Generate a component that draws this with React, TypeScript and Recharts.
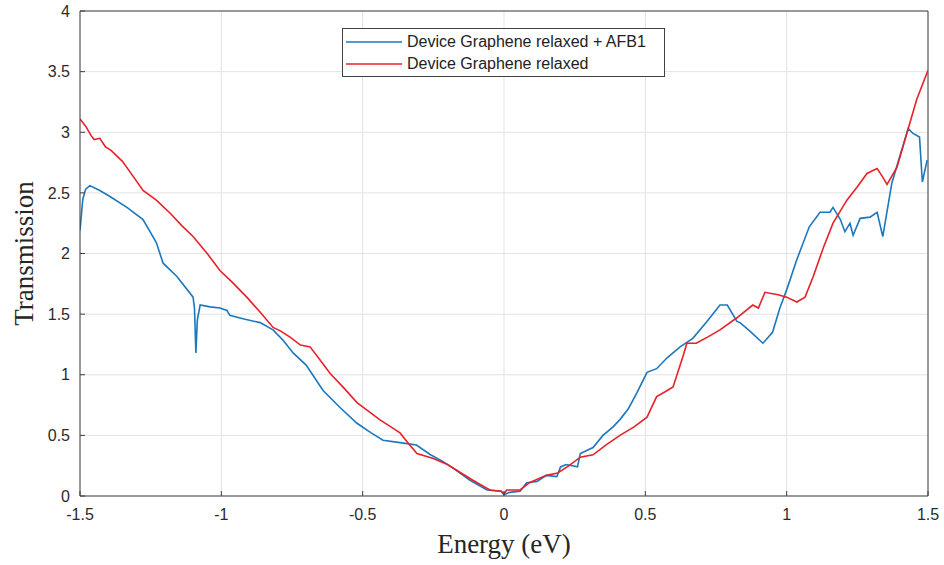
import React from "react";
import { LineChart, Line, XAxis, YAxis, CartesianGrid, Legend, Label, ReferenceLine } from "recharts";

const energyRelaxed = [
  -1.5, -1.48, -1.46, -1.45, -1.43, -1.41, -1.39, -1.35, -1.31, -1.277, -1.23, -1.18, -1.14, -1.1, -1.05,
  -1.005, -0.96, -0.91, -0.86, -0.817, -0.79, -0.757, -0.72, -0.686, -0.65, -0.615, -0.57, -0.52, -0.48,
  -0.44, -0.4, -0.368, -0.34, -0.308, -0.25, -0.2, -0.166, -0.11, -0.05, -0.01, 0.0, 0.01, 0.057, 0.09,
  0.15, 0.19, 0.23, 0.27, 0.315, 0.36, 0.41, 0.46, 0.506, 0.54, 0.57, 0.598, 0.633, 0.647, 0.68, 0.72,
  0.764, 0.824, 0.88, 0.9, 0.923, 0.97, 1.0, 1.036, 1.065, 1.094, 1.13, 1.164, 1.213, 1.25, 1.284, 1.32,
  1.34, 1.355, 1.39, 1.425, 1.46, 1.5,
];
const transRelaxed = [
  3.11, 3.05, 2.97, 2.94, 2.95, 2.88, 2.85, 2.76, 2.63, 2.52, 2.44, 2.33, 2.23, 2.14, 2.0,
  1.86, 1.76, 1.64, 1.51, 1.39, 1.36, 1.31, 1.245, 1.23, 1.12, 1.01, 0.9, 0.77, 0.7,
  0.63, 0.57, 0.52, 0.44, 0.35, 0.31, 0.26, 0.21, 0.13, 0.05, 0.04, 0.02, 0.05, 0.05, 0.11,
  0.17, 0.19, 0.25, 0.32, 0.34, 0.42, 0.5, 0.57, 0.65, 0.82, 0.86, 0.9, 1.15, 1.26, 1.26, 1.31,
  1.37, 1.47, 1.575, 1.55, 1.68, 1.66, 1.64, 1.6, 1.64, 1.81, 2.05, 2.25, 2.44, 2.55, 2.66, 2.7,
  2.63, 2.57, 2.71, 2.99, 3.27, 3.51,
];

const energyAFB1 = [
  -1.5, -1.49, -1.48, -1.465, -1.43, -1.394, -1.334, -1.277, -1.23, -1.206, -1.157, -1.1, -1.095, -1.09,
  -1.085, -1.075, -1.04, -1.005, -0.98, -0.97, -0.92, -0.863, -0.817, -0.78, -0.746, -0.7, -0.64, -0.58,
  -0.52, -0.47, -0.428, -0.368, -0.31, -0.26, -0.22, -0.18, -0.12, -0.06, -0.01, 0.0, 0.02, 0.057, 0.08,
  0.117, 0.15, 0.187, 0.2, 0.22, 0.26, 0.27, 0.315, 0.35, 0.386, 0.41, 0.44, 0.47, 0.506, 0.54, 0.577,
  0.623, 0.668, 0.718, 0.764, 0.79, 0.824, 0.835, 0.87, 0.916, 0.95, 0.976, 1.0, 1.036, 1.08, 1.118,
  1.153, 1.164, 1.19, 1.206, 1.224, 1.235, 1.26, 1.295, 1.32, 1.34, 1.372, 1.4, 1.43, 1.447, 1.47, 1.48,
  1.497,
];
const transAFB1 = [
  2.19, 2.45, 2.53, 2.56, 2.52, 2.47, 2.38, 2.28, 2.09, 1.92, 1.81, 1.64, 1.55, 1.18,
  1.45, 1.575, 1.56, 1.55, 1.53, 1.49, 1.46, 1.43, 1.37, 1.28, 1.18, 1.08, 0.87, 0.73,
  0.6, 0.52, 0.46, 0.44, 0.42, 0.34, 0.29, 0.23, 0.13, 0.05, 0.04, 0.01, 0.03, 0.04, 0.11,
  0.12, 0.17, 0.16, 0.24, 0.26, 0.24, 0.35, 0.4, 0.5, 0.57, 0.63, 0.72, 0.85, 1.02, 1.05, 1.14,
  1.23, 1.3, 1.44, 1.575, 1.575, 1.44, 1.43, 1.36, 1.26, 1.35, 1.55, 1.7, 1.95, 2.22, 2.34,
  2.34, 2.38, 2.28, 2.18, 2.25, 2.15, 2.29, 2.3, 2.34, 2.14, 2.58, 2.8, 3.03, 2.99, 2.96, 2.59,
  2.77,
];

const xTicks = [-1.5, -1, -0.5, 0, 0.5, 1, 1.5];
const yTicks = [0, 0.5, 1, 1.5, 2, 2.5, 3, 3.5, 4];
const xDomain = [-1.5, 1.5];
const yDomain = [0, 4];

const seriesNames = ["Device Graphene relaxed + AFB1", "Device Graphene relaxed"];
const xLabel = "Energy (eV)";
const yLabel = "Transmission";

const relaxedData = energyRelaxed.map((x, i) => ({ x, y: transRelaxed[i] }));
const afb1Data = energyAFB1.map((x, i) => ({ x, y: transAFB1[i] }));

const BLUE = "#1a78bd";
const RED = "#e8202a";
const AXIS = "#404040";
const TICK_TEXT = "#2b2b2b";
const SANS = "'Liberation Sans', Arial, Helvetica, sans-serif";
const SERIF = "'Liberation Serif', 'Times New Roman', serif";

const fmt = (v: number) => String(v);

const LegendBox = (props: any) => {
  const payload = [...(props.payload || [])].sort(
    (a: any, b: any) => seriesNames.indexOf(a.value) - seriesNames.indexOf(b.value)
  );
  return (
    <div
      style={{
        width: 323,
        height: 49,
        boxSizing: "border-box",
        border: `1px solid ${AXIS}`,
        background: "#fff",
        paddingTop: 2,
      }}
    >
      {payload.map((p: any, i: number) => (
        <div key={i} style={{ display: "flex", alignItems: "center", height: 22 }}>
          <svg width={64} height={22} style={{ display: "block" }}>
            <line x1={3} y1={11} x2={59} y2={11} stroke={p.color} strokeWidth={1.5} />
          </svg>
          <span style={{ fontFamily: SANS, fontSize: 16, color: "#222", whiteSpace: "nowrap" }}>{p.value}</span>
        </div>
      ))}
    </div>
  );
};

export default function App() {
  return (
    <div style={{ position: "absolute", left: 0, top: 0, width: 944, height: 565, background: "#fff" }}>
      <LineChart width={944} height={565} margin={{ top: 11, right: 16, left: 0, bottom: 0 }}>
        <CartesianGrid stroke="#e3e3e3" strokeWidth={1} />
        <XAxis
          type="number"
          dataKey="x"
          domain={xDomain}
          ticks={xTicks}
          allowDataOverflow
          height={69}
          stroke={AXIS}
          tickSize={-5}
          tickMargin={18}
          tickFormatter={fmt}
          tick={{ fill: TICK_TEXT, fontSize: 16, fontFamily: SANS }}
        >
          <Label
            content={(p: any) => {
              const vb = p.viewBox || {};
              return (
                <text
                  x={vb.x + vb.width / 2}
                  y={553}
                  textAnchor="middle"
                  fontFamily={SERIF}
                  fontSize={27}
                  fill="#262626"
                >
                  {xLabel}
                </text>
              );
            }}
          />
        </XAxis>
        <YAxis
          type="number"
          domain={yDomain}
          ticks={yTicks}
          allowDataOverflow
          width={80}
          stroke={AXIS}
          tickSize={-5}
          tickMargin={15}
          tickFormatter={fmt}
          tick={{ fill: TICK_TEXT, fontSize: 16, fontFamily: SANS }}
        >
          <Label
            content={(p: any) => {
              const vb = p.viewBox || {};
              const cy = vb.y + vb.height / 2;
              return (
                <text
                  x={33}
                  y={cy}
                  textAnchor="middle"
                  transform={`rotate(-90, 33, ${cy})`}
                  fontFamily={SERIF}
                  fontSize={27}
                  fill="#262626"
                >
                  {yLabel}
                </text>
              );
            }}
          />
        </YAxis>
        <ReferenceLine y={yDomain[1]} stroke={AXIS} strokeWidth={1} />
        <ReferenceLine x={xDomain[1]} stroke={AXIS} strokeWidth={1} />
        <Legend
          layout="vertical"
          align="center"
          verticalAlign="middle"
          content={<LegendBox />}
          wrapperStyle={{ left: 342, top: 28, width: 323, height: 49, bottom: "auto", right: "auto" }}
        />
        <Line
          name={seriesNames[0]}
          data={afb1Data}
          dataKey="y"
          type="linear"
          stroke={BLUE}
          strokeWidth={1.6}
          dot={false}
          isAnimationActive={false}
        />
        <Line
          name={seriesNames[1]}
          data={relaxedData}
          dataKey="y"
          type="linear"
          stroke={RED}
          strokeWidth={1.6}
          dot={false}
          isAnimationActive={false}
        />
      </LineChart>
    </div>
  );
}
